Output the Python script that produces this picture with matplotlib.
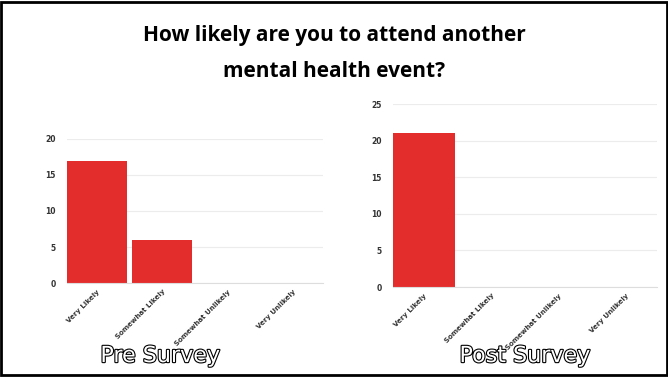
import matplotlib
matplotlib.use("Agg")
import matplotlib.pyplot as plt
import matplotlib.patheffects as pe
from matplotlib.patches import Rectangle

categories = ["Very Likely", "Somewhat Likely", "Somewhat Unlikely", "Very Unlikely"]
pre_counts = [17, 6, 0, 0]
post_counts = [21, 0, 0, 0]

bar_color = "#E32D2D"
grid_color = "#ECECEC"
label_color = "#333333"

fig = plt.figure(figsize=(6.68, 3.78), dpi=100)
fig.patch.set_facecolor("white")

# black frame around the whole picture
fig.add_artist(Rectangle((0.002, 0.008), 0.996, 0.988, transform=fig.transFigure,
                         fill=False, edgecolor="black", linewidth=2))

fig.text(0.5, 0.907, "How likely are you to attend another", ha="center", va="center",
         fontsize=15, fontweight="bold", family="Open Sans")
fig.text(0.5, 0.812, "mental health event?", ha="center", va="center",
         fontsize=15, fontweight="bold", family="Open Sans")


def draw_panel(rect, values, ymax, ticks, caption, cap_x):
    ax = fig.add_axes(rect)
    x = range(len(categories))
    ax.bar(x, values, width=0.92, color=bar_color, zorder=3)
    ax.set_xlim(-0.46, len(categories) - 0.54)
    ax.set_ylim(0, ymax)
    ax.set_yticks(ticks)
    ax.set_xticks(list(x))
    ax.set_xticklabels(categories, rotation=45, ha="right", rotation_mode="anchor",
                       fontsize=5, color=label_color, fontweight="bold")
    for lab in ax.get_yticklabels():
        lab.set_fontsize(5.5)
        lab.set_color(label_color)
        lab.set_fontweight("bold")
    ax.tick_params(length=0, pad=8)
    ax.tick_params(axis="x", pad=4)
    ax.grid(axis="y", color=grid_color, linewidth=0.8, zorder=0)
    for s in ["top", "right", "left"]:
        ax.spines[s].set_visible(False)
    ax.spines["bottom"].set_color("#DDDDDD")
    ax.spines["bottom"].set_zorder(4)
    t = fig.text(cap_x, 0.058, caption, ha="center", va="center", fontsize=16,
                 color="white", family="DejaVu Sans")
    t.set_path_effects([pe.Stroke(linewidth=1.6, foreground="black"), pe.Normal()])
    return ax


draw_panel([0.100, 0.2513, 0.3835, 0.381], pre_counts, 20, [0, 5, 10, 15, 20],
           "Pre Survey", 0.24)
draw_panel([0.588, 0.2407, 0.395, 0.484], post_counts, 25, [0, 5, 10, 15, 20, 25],
           "Post Survey", 0.786)

fig.savefig("out.png", dpi=100)
